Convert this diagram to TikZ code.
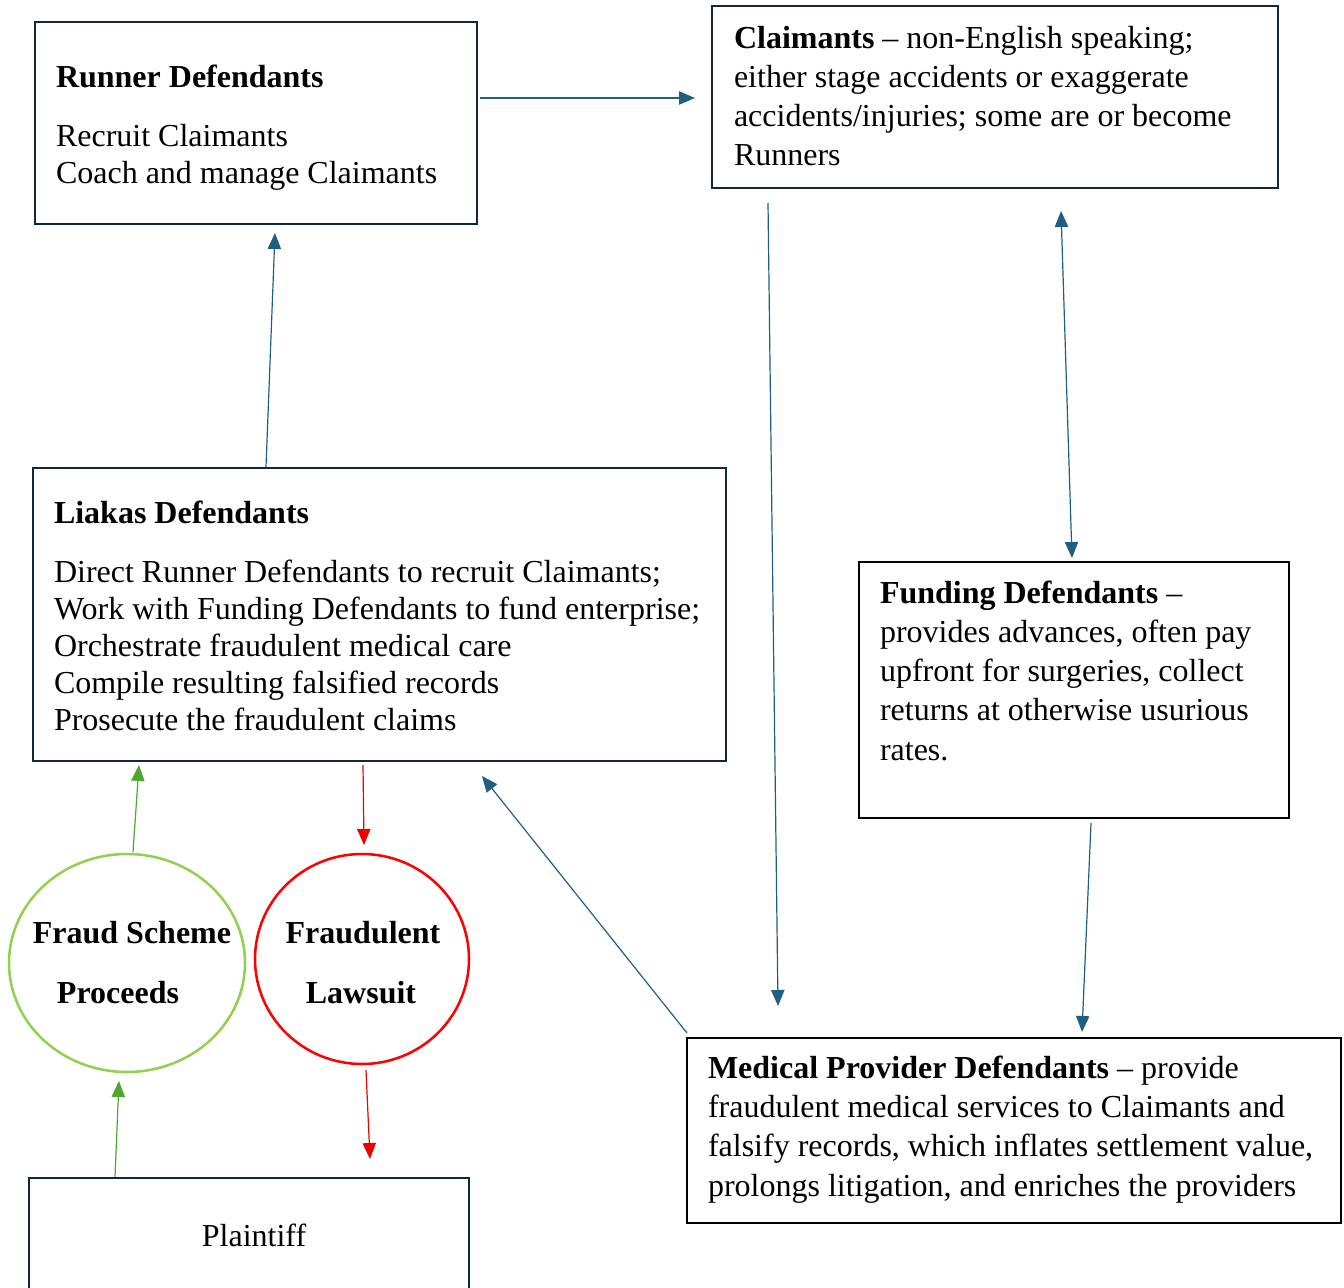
\documentclass[tikz,border=0pt]{standalone}
\usepackage{fontspec}
\setmainfont{Liberation Serif}
\usetikzlibrary{arrows.meta,shapes.geometric}
\definecolor{navy}{HTML}{0E2841}
\definecolor{arrowblue}{HTML}{1F6082}
\definecolor{lgreen}{HTML}{92D050}
\definecolor{dgreen}{HTML}{4EA72E}
\definecolor{fred}{HTML}{EE0000}
\tikzset{
  boxnavy/.style={draw=navy,line width=1.8pt,rectangle,inner sep=0pt,outer sep=0pt},
  boxblack/.style={draw=black,line width=1.8pt,rectangle,inner sep=0pt,outer sep=0pt},
  txt/.style={inner sep=0pt,outer sep=0pt,anchor=base west,align=left,font=\fontsize{24}{27.75}\selectfont},
  txtb/.style={txt,font=\fontsize{24}{29.4}\selectfont},
  conn/.style={draw=arrowblue,line width=0.9pt,-{Triangle[length=12pt,width=10pt]}},
  gconn/.style={draw=dgreen,line width=0.9pt,-{Triangle[length=12pt,width=10pt]}},
  rconn/.style={draw=fred,line width=0.9pt,-{Triangle[length=12pt,width=10pt]}},
  ell/.style={ellipse,line width=1.9pt,inner sep=0pt,outer sep=0pt}
}
\begin{document}
\begin{tikzpicture}[x=0.75pt,y=-0.75pt]
\useasboundingbox (0,0) rectangle (1344,1287);
\clip (0,0) rectangle (1344,1287);
% boxes
\node[boxnavy,minimum width=331.5pt,minimum height=151.5pt] (runner) at (256,123) {};
\node[boxnavy,minimum width=424.5pt,minimum height=136.5pt] (claim) at (995,97) {};
\node[boxnavy,minimum width=519.75pt,minimum height=219.75pt] (liakas) at (379.5,614.5) {};
\node[boxblack,minimum width=322.5pt,minimum height=192pt] (funding) at (1074,690) {};
\node[boxblack,minimum width=490.5pt,minimum height=138.75pt] (medical) at (1014,1130.5) {};
\node[boxnavy,minimum width=330pt,minimum height=99pt] (plaintiff) at (249,1244) {};
\node[ell,draw=lgreen,minimum width=177pt,minimum height=163.5pt] (proceeds) at (127,963) {};
\node[ell,draw=red,minimum width=160.5pt,minimum height=157.5pt] (lawsuit) at (362,959) {};
% texts (anchor base = baseline of the last line)
\node[txt] (runnertitle) at (56,88) {\textbf{Runner Defendants}};
\node[txt] (runnertxt) at (56,184) {Recruit Claimants\\Coach and manage Claimants};
\node[txtb] (claimtxt) at (734,166) {\textbf{Claimants} \textendash{} non-English speaking;\\either stage accidents or exaggerate\\accidents/injuries; some are or become\\Runners};
\node[txt] (liakastitle) at (54,523) {\textbf{Liakas Defendants}};
\node[txt] (liakastxt) at (54,730) {Direct Runner Defendants to recruit Claimants;\\Work with Funding Defendants to fund enterprise;\\Orchestrate fraudulent medical care\\Compile resulting falsified records\\Prosecute the fraudulent claims};
\node[txtb] (fundingtxt) at (880,760) {\textbf{Funding Defendants} \textendash\\provides advances, often pay\\upfront for surgeries, collect\\returns at otherwise usurious\\rates.};
\node[txtb] (medicaltxt) at (708,1196) {\textbf{Medical Provider Defendants} \textendash{} provide\\fraudulent medical services to Claimants and\\falsify records, which inflates settlement value,\\prolongs litigation, and enriches the providers};
\node[txt,anchor=base,align=center,font=\fontsize{24}{45}\selectfont\bfseries] (proceedstxt) at (132,1003) {Fraud Scheme\\\hspace*{-21pt}Proceeds};
\node[txt,anchor=base,align=center,font=\fontsize{24}{45}\selectfont\bfseries] (lawsuittxt) at (363,1003) {Fraudulent\\\hspace*{-3pt}Lawsuit};
\node[txt,anchor=base] (plaintifftxt) at (254,1246) {Plaintiff};
% connectors
\coordinate (lawsuitout) at (370,1159);
\draw[conn] ([shift={(3,-25)}]runner.east) -- ([shift={(-17,1)}]claim.west);
\draw[conn] ([shift={(-113.5,-1)}]liakas.north) -- ([shift={(19,9)}]runner.south);
\draw[conn,{Triangle[length=12pt,width=10pt]}-{Triangle[length=12pt,width=10pt]}] ([shift={(66,23)}]claim.south) -- ([shift={(-2,-4)}]funding.north);
\draw[conn] ([shift={(-227,15)}]claim.south) -- ([shift={(-236,-32)}]medical.north);
\draw[conn] ([shift={(17,5)}]funding.south) -- ([shift={(68,-6)}]medical.north);
\draw[conn] ([shift={(0,-5)}]medical.north west) -- ([shift={(102.5,15)}]liakas.south);
\draw[gconn] ([shift={(6,-2)}]proceeds.north) -- ([shift={(-240.5,4)}]liakas.south);
\draw[gconn] ([shift={(-134,-1)}]plaintiff.north) -- ([shift={(-8,9)}]proceeds.south);
\draw[rconn] ([shift={(-16.5,4)}]liakas.south) -- ([shift={(2,-9)}]lawsuit.north);
\draw[rconn] ([shift={(4,6)}]lawsuit.south) -- (lawsuitout);
\end{tikzpicture}
\end{document}
